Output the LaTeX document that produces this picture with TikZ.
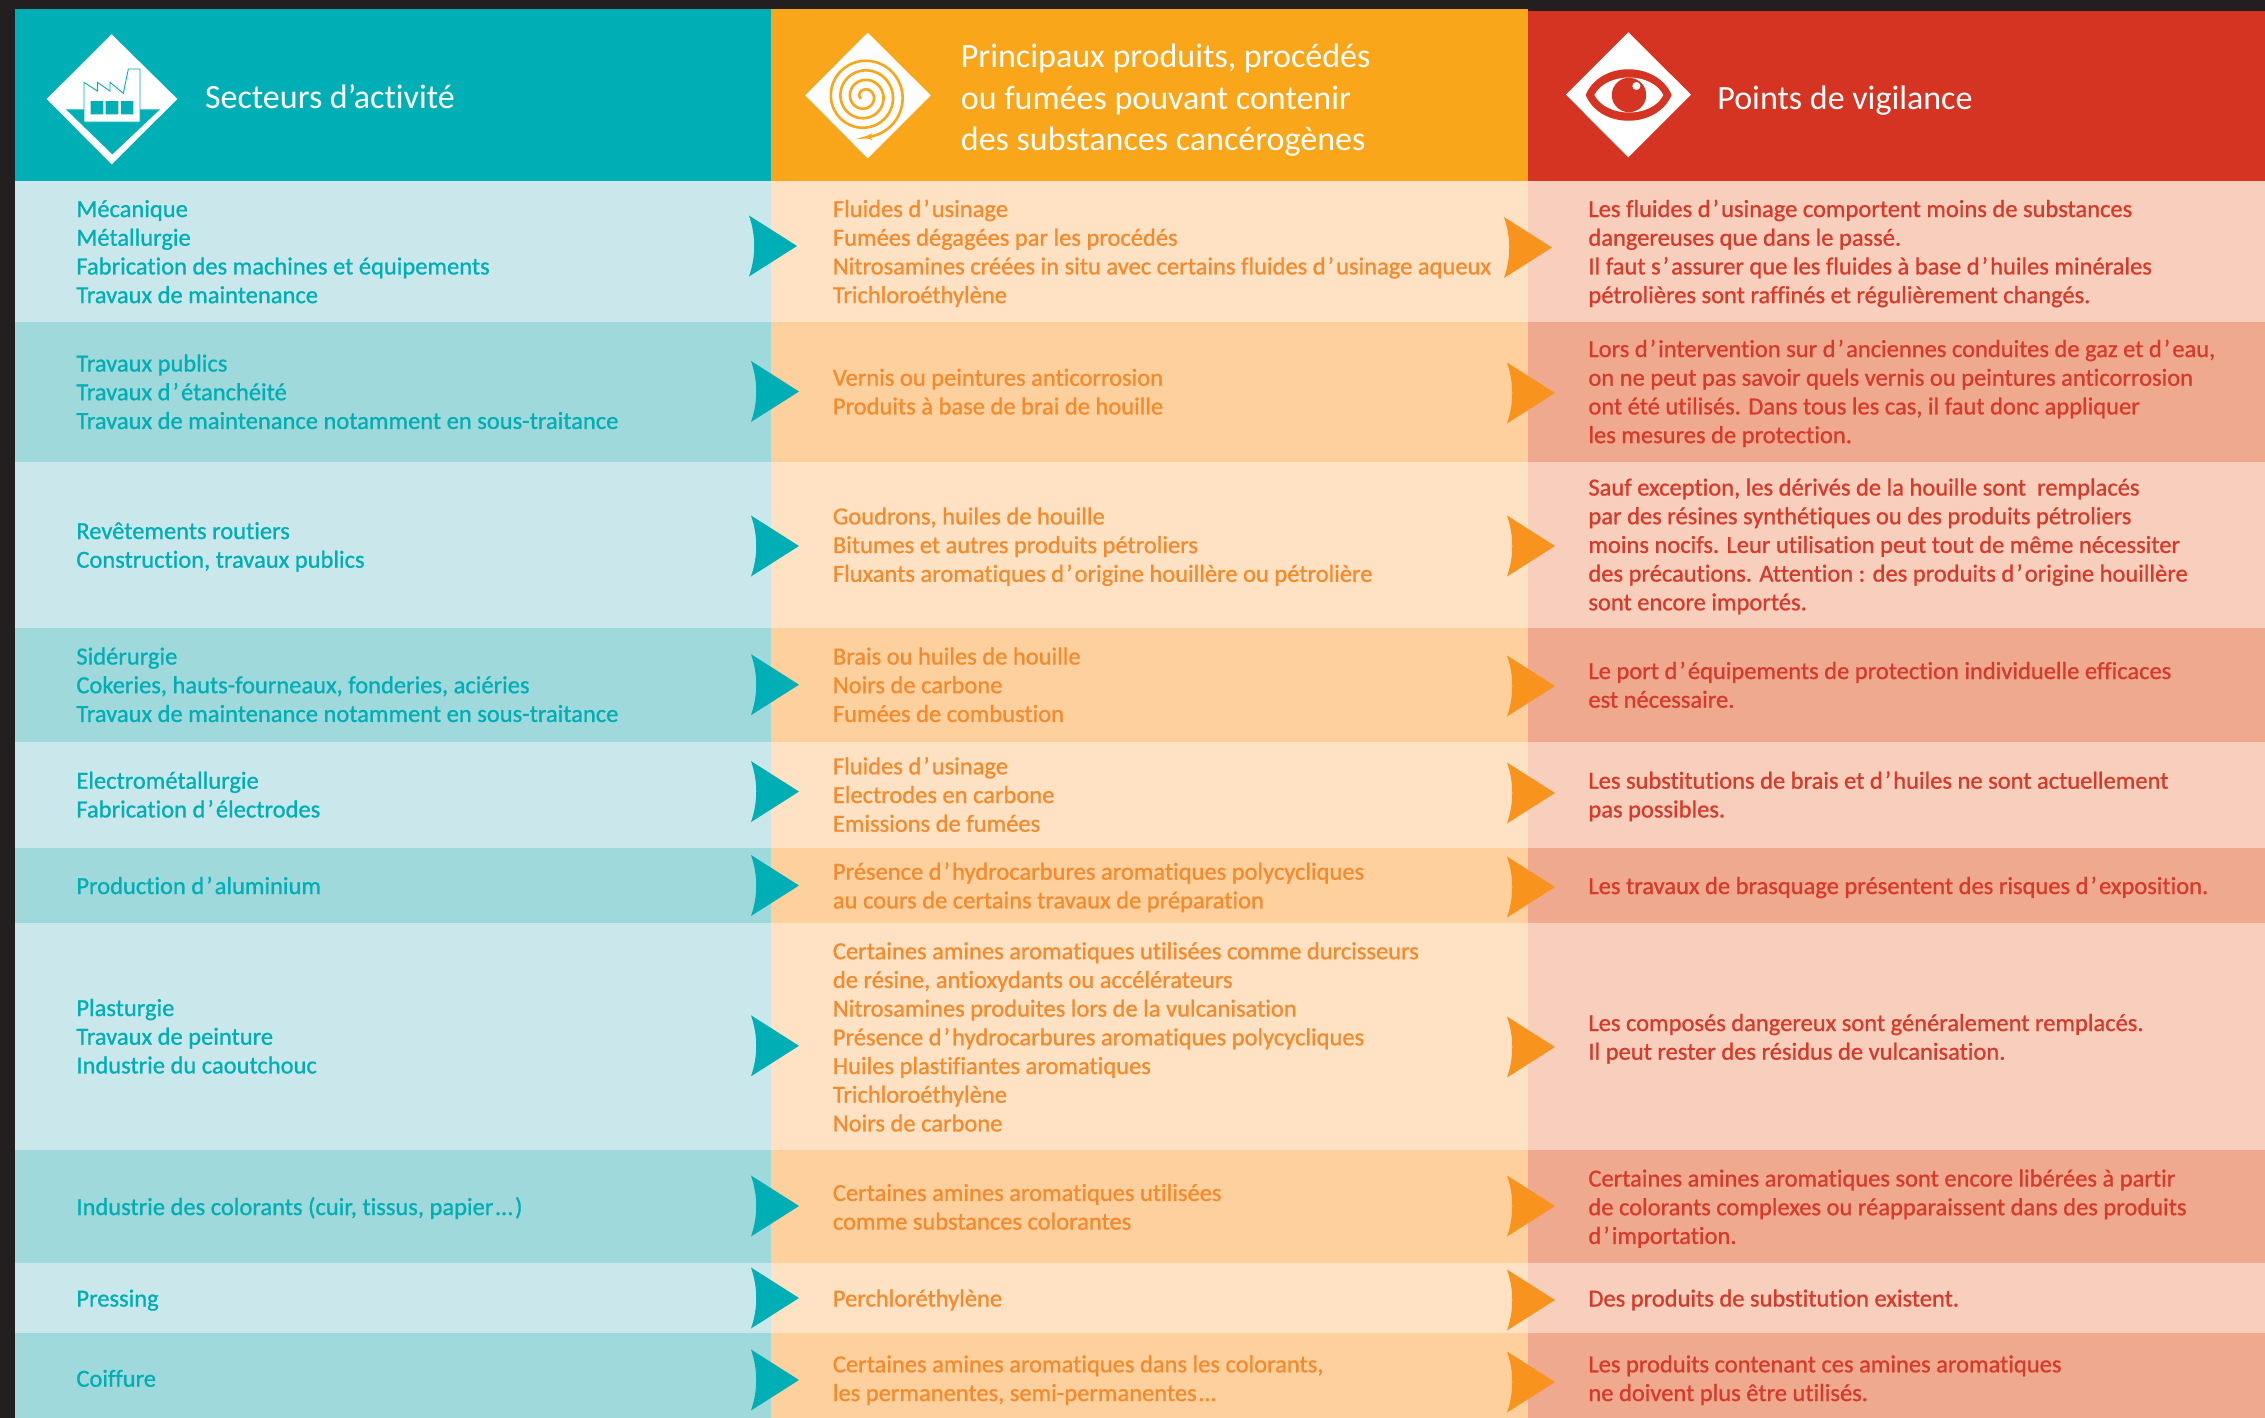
\documentclass[tikz,border=0pt]{standalone}
\usepackage{fontspec}
\usetikzlibrary{arrows.meta}
\setmainfont{Carlito}
\newfontfamily\cellfont[FakeBold=0.9,Ligatures=NoCommon]{Carlito}
\newfontfamily\headfont[Ligatures=NoCommon]{Carlito}
\newcommand\ap{\kern1.1pt’\kern1.1pt}
\newcommand\dotsgap{\kern1.2pt…\kern1.2pt}
\definecolor{darkbg}{HTML}{231F20}
\definecolor{tealh}{HTML}{00AEB5}
\definecolor{orangeh}{HTML}{FAA61A}
\definecolor{redh}{HTML}{D63422}
\definecolor{tealL}{HTML}{CAE8EB}
\definecolor{tealD}{HTML}{9FD9DC}
\definecolor{orangeL}{HTML}{FEE2C3}
\definecolor{orangeD}{HTML}{FDD09D}
\definecolor{redL}{HTML}{F7CFBC}
\definecolor{redD}{HTML}{EEA98F}
\definecolor{orangeT}{HTML}{F58A2C}
\definecolor{redT}{HTML}{D83A2A}
\definecolor{orangeA}{HTML}{F8941D}
\tikzset{
  nl/.style={yshift={-(#1-1)*14.35pt}},
  cellbase/.style={anchor=base west,align=left,inner sep=0pt,font=\cellfont\fontsize{12.25pt}{14.35pt}\selectfont},
  cellA/.style={cellbase,text=tealh},
  cellB/.style={cellbase,text=orangeT},
  cellC/.style={cellbase,text=redT},
  headtext/.style={anchor=base west,align=left,inner sep=0pt,text=white,font=\headfont\fontsize{17pt}{20.5pt}\selectfont},
  rowarrow/.pic={\fill (0,-30.5) -- (48,0) -- (0,30.5) .. controls (7,10) and (7,-10) .. cycle;}
}
\begin{document}
\begin{tikzpicture}[x=0.5pt,y=-0.5pt]
\useasboundingbox (0,0) rectangle (2265,1418);
\fill[darkbg] (0,0) rectangle (2265,1418);
% headers
\fill[tealh] (15,9.3) rectangle (771,181);
\fill[orangeh] (771,9.3) rectangle (1528,181);
\fill[redh] (1528,11) rectangle (2265,181);
% rows
\foreach \ya/\yb/\ca/\cb/\cc in {181/322/tealL/orangeL/redL,322/462/tealD/orangeD/redD,462/628/tealL/orangeL/redL,628/742/tealD/orangeD/redD,742/848/tealL/orangeL/redL,848/923/tealD/orangeD/redD,923/1150/tealL/orangeL/redL,1150/1263/tealD/orangeD/redD,1263/1333/tealL/orangeL/redL,1333/1418/tealD/orangeD/redD}{
  \fill[\ca] (15,\ya) rectangle (771,\yb);
  \fill[\cb] (771,\ya) rectangle (1528,\yb);
  \fill[\cc] (1528,\ya) rectangle (2265,\yb);
}
% icon 1
\begin{scope}[shift={(40,25)},x=0.16667pt,y=-0.16667pt]
  \fill[white] (215,28) -- (412,222) -- (215,418) -- (20,222) -- cycle;
  \fill[tealh] (78,253) -- (360,253) -- (217,388) -- cycle;
  \filldraw[fill=white,draw=tealh,line width=0.45pt] (132,291) -- (132,172) -- (172,198) -- (172,172) -- (210,198) -- (210,172) -- (250,205) -- (265,132) -- (300,132) -- (300,291) -- cycle;
  \fill[tealh] (152,228) rectangle (190,268) (197,228) rectangle (235,268) (243,228) rectangle (280,268);
\end{scope}
% icon 2
\begin{scope}[shift={(795,25)},x=0.16667pt,y=-0.16667pt]
  \fill[white] (218,23) -- (407,211) -- (218,400) -- (31,211) -- cycle;
  \draw[orangeh,line width=1.3pt,-{Stealth[length=4pt,width=3.5pt]},smooth] plot[domain=150:1530,samples=180] ({208+0.0797*\x*cos(\x)},{215+0.0797*\x*sin(\x)});
\end{scope}
% icon 3
\begin{scope}[shift={(1560,25)},x=0.16667pt,y=-0.16667pt]
  \fill[white] (205,22) -- (393,209) -- (205,397) -- (18,209) -- cycle;
  \fill[redh] (77,210) .. controls (120,107) and (290,107) .. (335,210) .. controls (290,313) and (120,313) .. (77,210) -- cycle;
  \fill[white] (103,210) .. controls (140,140) and (275,140) .. (310,210) .. controls (275,280) and (140,280) .. (103,210) -- cycle;
  \fill[redh] (207,210) circle[radius=8.6pt];
  \fill[white] (229,183) circle[radius=2pt];
\end{scope}
% header text
\node[headtext] (h1) at (204.6,108.5) {Secteurs d’activité};
\node[headtext,yshift=-41pt] (h2) at (960.5,68) {Principaux produits, procédés\\ou fumées pouvant contenir\\des substances cancérogènes};
\node[headtext] (h3) at (1717,109.5) {Points de vigilance};
% column 1
\node[cellA,nl=4] (a1) at (76,217) {Mécanique\\Métallurgie\\Fabrication des machines et équipements\\Travaux de maintenance};
\node[cellA,nl=3] (a2) at (76,371.5) {Travaux publics\\Travaux d\ap étanchéité\\Travaux de maintenance notamment en sous-traitance};
\node[cellA,nl=2] (a3) at (76,539) {Revêtements routiers\\Construction, travaux publics};
\node[cellA,nl=3] (a4) at (76,664.5) {Sidérurgie\\Cokeries, hauts-fourneaux, fonderies, aciéries\\Travaux de maintenance notamment en sous-traitance};
\node[cellA,nl=2] (a5) at (76,788.7) {Electrométallurgie\\Fabrication d\ap électrodes};
\node[cellA] (a6) at (76,894) {Production d\ap aluminium};
\node[cellA,nl=3] (a7) at (76,1016) {Plasturgie\\Travaux de peinture\\Industrie du caoutchouc};
\node[cellA] (a8) at (76,1215) {Industrie des colorants (cuir, tissus, papier\dotsgap)};
\node[cellA] (a9) at (76,1306.5) {Pressing};
\node[cellA] (a10) at (76,1386.7) {Coiffure};
% column 2
\node[cellB,nl=4] (b1) at (832.5,217) {Fluides d\ap usinage\\Fumées dégagées par les procédés\\Nitrosamines créées in situ avec certains fluides d\ap usinage aqueux\\Trichloroéthylène};
\node[cellB,nl=2] (b2) at (832.5,385.7) {Vernis ou peintures anticorrosion\\Produits à base de brai de houille};
\node[cellB,nl=3] (b3) at (832.5,524.4) {Goudrons, huiles de houille\\Bitumes et autres produits pétroliers\\Fluxants aromatiques d\ap origine houillère ou pétrolière};
\node[cellB,nl=3] (b4) at (832.5,664.5) {Brais ou huiles de houille\\Noirs de carbone\\Fumées de combustion};
\node[cellB,nl=3] (b5) at (832.5,774.3) {Fluides d\ap usinage\\Electrodes en carbone\\Emissions de fumées};
\node[cellB,nl=2] (b6) at (832.5,879.7) {Présence d\ap hydrocarbures aromatiques polycycliques\\au cours de certains travaux de préparation};
\node[cellB,nl=7] (b7) at (832.5,959.2) {Certaines amines aromatiques utilisées comme durcisseurs\\de résine, antioxydants ou accélérateurs\\Nitrosamines produites lors de la vulcanisation\\Présence d\ap hydrocarbures aromatiques polycycliques\\Huiles plastifiantes aromatiques\\Trichloroéthylène\\Noirs de carbone};
\node[cellB,nl=2] (b8) at (832.5,1200.9) {Certaines amines aromatiques utilisées\\comme substances colorantes};
\node[cellB] (b9) at (832.5,1306.5) {Perchloréthylène};
\node[cellB,nl=2] (b10) at (832.5,1372.3) {Certaines amines aromatiques dans les colorants,\\les permanentes, semi-permanentes\dotsgap};
% column 3
\node[cellC,nl=4] (c1) at (1588,217) {Les fluides d\ap usinage comportent moins de substances\\dangereuses que dans le passé.\\Il faut s\ap assurer que les fluides à base d\ap huiles minérales\\pétrolières sont raffinés et régulièrement changés.};
\node[cellC,nl=4] (c2) at (1588,357) {Lors d\ap intervention sur d\ap anciennes conduites de gaz et d\ap eau,\\on ne peut pas savoir quels vernis ou peintures anticorrosion\\ont été utilisés. Dans tous les cas, il faut donc appliquer\\les mesures de protection.};
\node[cellC,nl=5] (c3) at (1588,495.5) {Sauf exception, les dérivés de la houille sont\ \ remplacés\\par des résines synthétiques ou des produits pétroliers\\moins nocifs. Leur utilisation peut tout de même nécessiter\\des précautions. Attention : des produits d\ap origine houillère\\sont encore importés.};
\node[cellC,nl=2] (c4) at (1588,679) {Le port d\ap équipements de protection individuelle efficaces\\est nécessaire.};
\node[cellC,nl=2] (c5) at (1588,788.7) {Les substitutions de brais et d\ap huiles ne sont actuellement\\pas possibles.};
\node[cellC] (c6) at (1588,894) {Les travaux de brasquage présentent des risques d\ap exposition.};
\node[cellC,nl=2] (c7) at (1588,1031) {Les composés dangereux sont généralement remplacés.\\Il peut rester des résidus de vulcanisation.};
\node[cellC,nl=3] (c8) at (1588,1186.5) {Certaines amines aromatiques sont encore libérées à partir\\de colorants complexes ou réapparaissent dans des produits\\d\ap importation.};
\node[cellC] (c9) at (1588,1306.5) {Des produits de substitution existent.};
\node[cellC,nl=2] (c10) at (1588,1372.3) {Les produits contenant ces amines aromatiques\\ne doivent plus être utilisés.};
% arrows
\foreach \y in {391.5,546,684.7,791.6,885.5,1045.8,1206,1298,1380}{\pic[color=tealh] at (751,\y) {rowarrow};}
\pic[color=tealh] at (749,246) {rowarrow};
\foreach \y in {393,546,686,793,887,1047,1206,1300,1382}{\pic[color=orangeA] at (1507,\y) {rowarrow};}
\pic[color=orangeA] at (1504,247.5) {rowarrow};
\end{tikzpicture}
\end{document}
